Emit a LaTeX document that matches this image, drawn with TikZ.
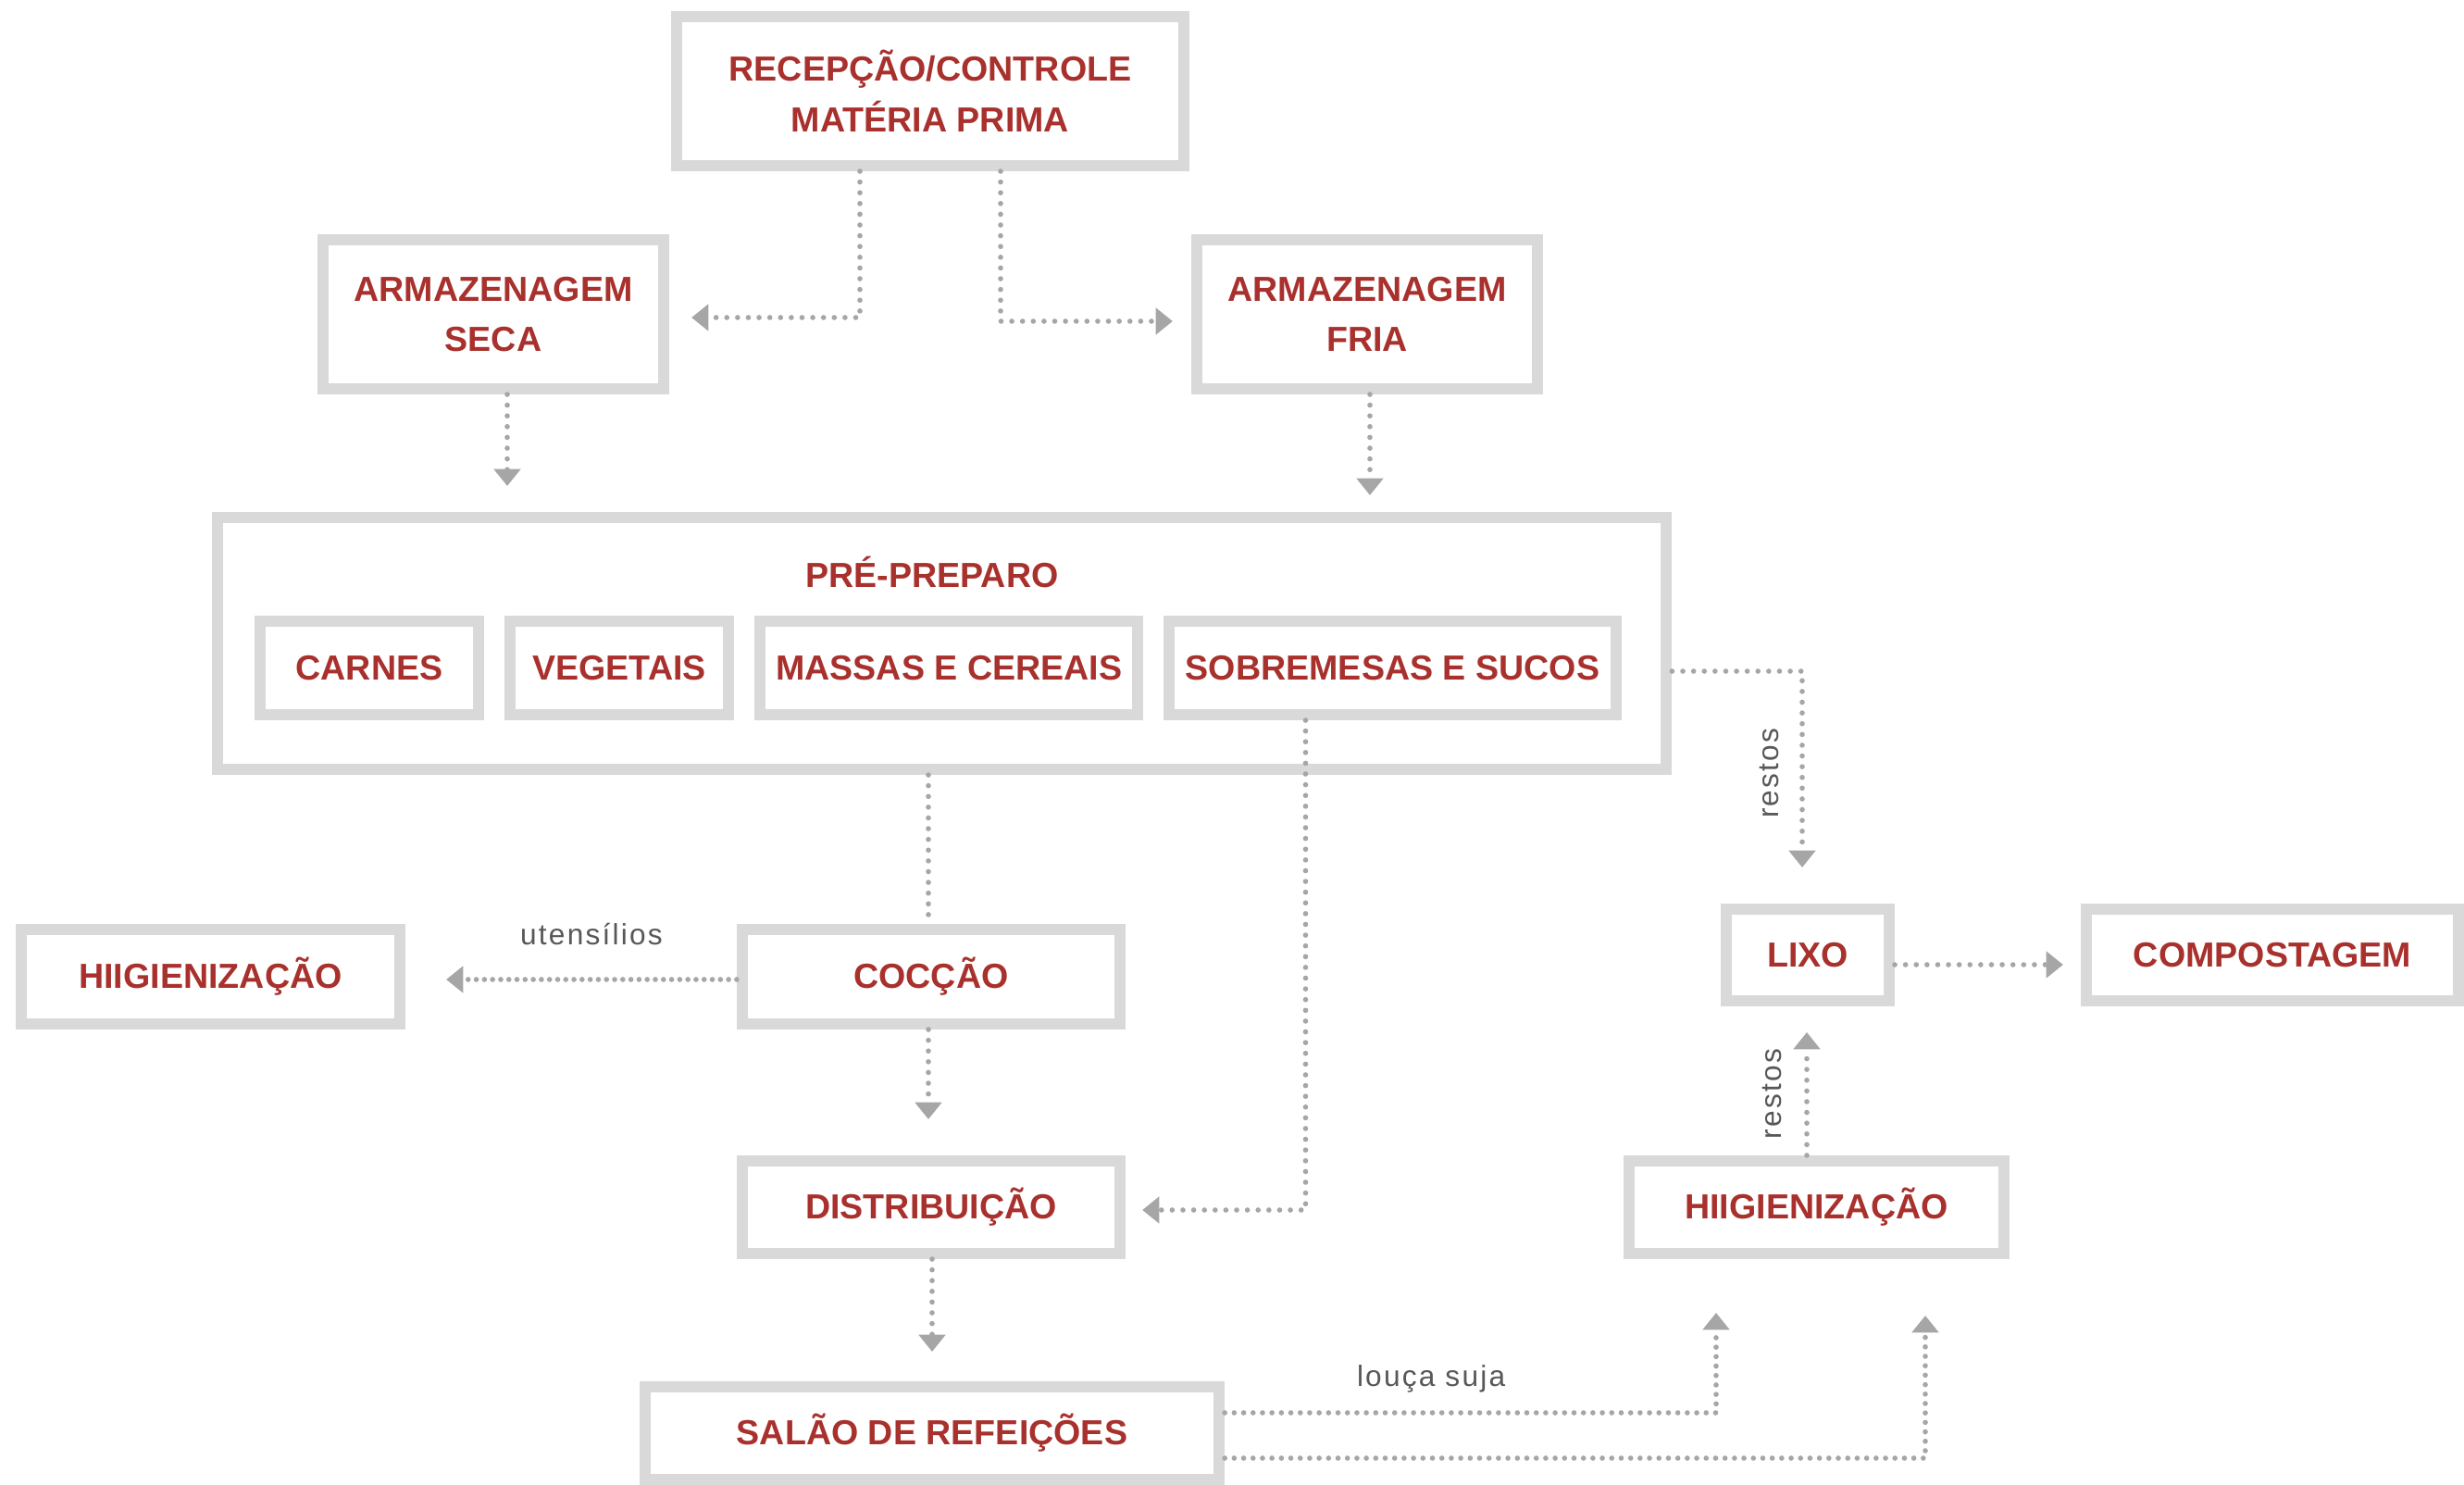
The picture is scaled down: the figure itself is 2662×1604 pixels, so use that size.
\documentclass[tikz,border=0pt]{standalone}
\usepackage{fontspec}
\setmainfont{Liberation Sans}
\newfontfamily\labelfont{Liberation Sans}[LetterSpace=7]
\usetikzlibrary{positioning}
\usetikzlibrary{calc}
\usetikzlibrary{arrows.meta}
\definecolor{boxgray}{RGB}{217,217,217}
\definecolor{textred}{RGB}{168,49,45}
\definecolor{arrowgray}{RGB}{166,166,166}
\definecolor{labelgray}{RGB}{88,88,88}

\begin{document}
\begin{tikzpicture}[
  x=0.01cm, y=-0.01cm,
  mybox/.style={draw=boxgray,line width=3.4pt,fill=white,text=textred,
    font=\fontsize{10.7}{15.5}\selectfont\bfseries,align=center,
    inner sep=0pt,minimum height=1cm},
  myline/.style={draw=arrowgray,line width=1.6pt,line cap=round,
    dash pattern=on 0pt off 3.3pt},
  myarrow/.style={myline,-{Triangle[length=5.2pt,width=8pt]}},
  mylabel/.style={text=labelgray,font=\labelfont\fontsize{9}{10}\selectfont,inner sep=0pt}
]
\path[use as bounding box,fill=white] (0,0) rectangle (2662,1604);

% caixas
\node[mybox,minimum width=5.48cm,minimum height=1.61cm] (rec) at (1005,98.5) {RECEPÇÃO/CONTROLE\\MATÉRIA PRIMA};
\node[mybox,minimum width=3.68cm,minimum height=1.61cm] (seca) at (533,339.5) {ARMAZENAGEM\\SECA};
\node[mybox,minimum width=3.68cm,minimum height=1.61cm] (fria) at (1477,339.5) {ARMAZENAGEM\\FRIA};

\node[mybox,minimum width=15.65cm,minimum height=2.72cm] (pre) at (1017.5,695) {};
\node[text=textred,font=\fontsize{10.7}{12}\selectfont\bfseries] (pretitle) at (1007,618) {PRÉ-PREPARO};
\node[mybox,minimum width=2.36cm,minimum height=1.01cm] (carnes) at (399,721.5) {CARNES};
\node[mybox,minimum width=2.36cm,minimum height=1.01cm,right=0.22cm of carnes] (veg) {VEGETAIS};
\node[mybox,minimum width=4.08cm,minimum height=1.01cm,right=0.22cm of veg] (massas) {MASSAS E CEREAIS};
\node[mybox,minimum width=4.82cm,minimum height=1.01cm,right=0.22cm of massas] (sobrem) {SOBREMESAS E SUCOS};

\node[mybox,minimum width=4.09cm,minimum height=1.02cm] (hig1) at (227.5,1055) {HIIGIENIZAÇÃO};
\node[mybox,minimum width=4.08cm,minimum height=1.02cm] (coc) at (1006,1055) {COCÇÃO};
\node[mybox,minimum width=4.08cm] (dist) at (1006,1304) {DISTRIBUIÇÃO};
\node[mybox,minimum width=6.2cm] (salao) at (1007,1548) {SALÃO DE REFEIÇÕES};

\node[mybox,minimum width=1.76cm,minimum height=0.99cm] (lixo) at (1953,1031.5) {LIXO};
\node[mybox,minimum width=4.02cm,minimum height=0.99cm] (comp) at (2455,1031.5) {COMPOSTAGEM};
\node[mybox,minimum width=4.05cm] (hig2) at (1962.5,1304) {HIIGIENIZAÇÃO};

% setas
\draw[myarrow] ($(rec.south)+(-76,0)$) |- ($(seca.east)+(24,3.5)$);
\draw[myarrow] ($(rec.south)+(76,0)$) |- ($(fria.west)+(-20,7.5)$);
\draw[myarrow] ($(seca.south)+(15,0)$) -- ($(pre.north)+(-469.5,-28)$);
\draw[myarrow] ($(fria.south)+(3,0)$) -- ($(pre.north)+(462.5,-18)$);
\draw[myarrow] ($(pre.east)+(0,30)$) -| ($(lixo.north)+(-6,-39)$)
  node[mylabel,pos=0.76,xshift=-0.22cm,rotate=90,anchor=south] {restos};
\draw[myline] ($(pre.south)+(-14.5,0)$) -- ($(coc.north)+(-3,0)$);
\draw[myarrow,dash pattern=on 0pt off 2.5pt] ($(coc.west)+(0,3)$) -- ($(hig1.east)+(44,3)$)
  node[mylabel,midway,above=0.34cm] {utensílios};
\draw[myarrow] ($(coc.south)+(-3,0)$) -- ($(dist.north)+(-3,-39)$);
\draw[myarrow] ($(sobrem.south)+(-94,0)$) |- ($(dist.east)+(18,3)$);
\draw[myarrow] ($(dist.south)+(1,0)$) -- ($(salao.north)+(0,-32)$);
\draw[myarrow] ($(lixo.east)+(0,10.5)$) -- ($(comp.west)+(-19,10.5)$);
\draw[myarrow] ($(hig2.north)+(-10.5,0)$) -- ($(lixo.south)+(-1,28)$)
  node[mylabel,midway,xshift=-0.24cm,rotate=90,anchor=south] {restos};
\draw[myarrow,dash pattern=on 0pt off 2.9pt] ($(salao.east)+(0,-22)$) -| ($(hig2.south)+(-108.5,58)$)
  node[mylabel,pos=0.21,above=0.19cm] {louça suja};
\draw[myarrow,dash pattern=on 0pt off 2.9pt] ($(salao.east)+(0,27)$) -| ($(hig2.south)+(117.5,61)$);

\end{tikzpicture}
\end{document}
